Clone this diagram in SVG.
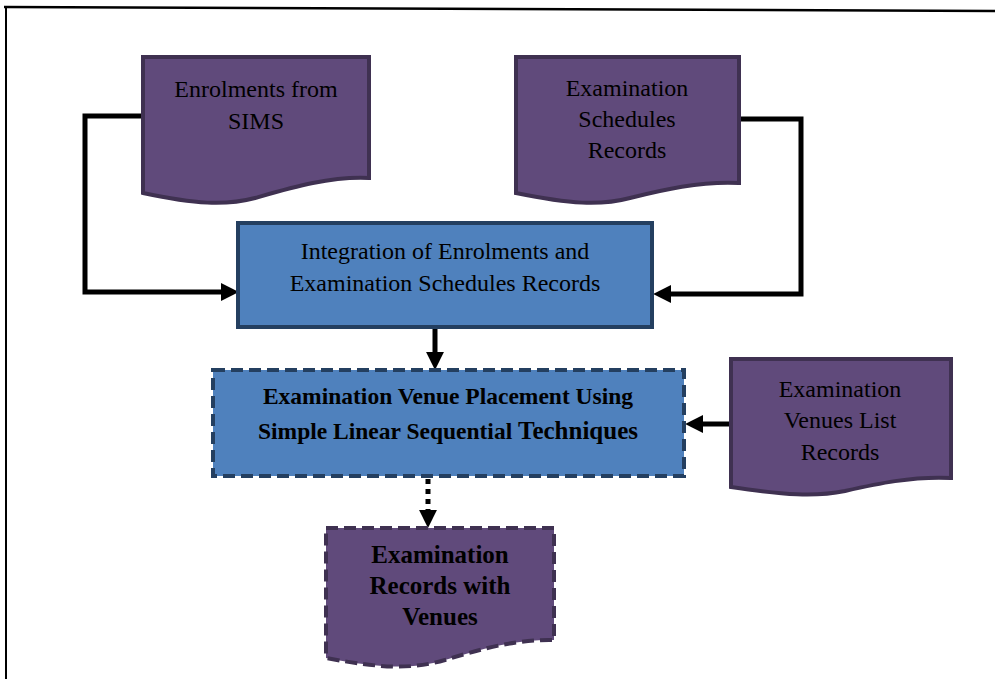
<svg xmlns="http://www.w3.org/2000/svg" width="995" height="679" viewBox="0 0 995 679">
<style>
.doc{fill:#604a7b;stroke:#3f3151;stroke-width:4;stroke-linejoin:miter}
.box{fill:#4f81bd;stroke:#243f60;stroke-width:4}
.dash{stroke-dasharray:12 6}
.t{font-family:"Liberation Serif","Times New Roman",serif;font-size:24px;fill:#000;text-anchor:middle}
.b{font-weight:bold;font-size:23.5px}
.o{font-weight:bold;font-size:25px}
.con{fill:none;stroke:#000;stroke-width:5}
</style>
<defs>
<marker id="ah" markerUnits="userSpaceOnUse" markerWidth="18" markerHeight="18" viewBox="0 0 16 16" refX="1" refY="8" orient="auto">
<path d="M0,0 L16,8 L0,16 Z" fill="#000"/>
</marker>
</defs>
<rect width="995" height="679" fill="#fff"/>
<g id="frame">
<line x1="4" y1="7" x2="995" y2="11" stroke="#000" stroke-width="2.5"/>
<line x1="6" y1="7" x2="6" y2="679" stroke="#000" stroke-width="2"/>
</g>
<g id="connectors">
<polyline class="con" points="143,116 85,116 85,292 222,292" marker-end="url(#ah)"/>
<polyline class="con" points="741,119 801,119 801,294 670,294" marker-end="url(#ah)"/>
<line class="con" x1="435" y1="328" x2="435" y2="353" marker-end="url(#ah)"/>
<line class="con" x1="730" y1="424" x2="702" y2="424" marker-end="url(#ah)"/>
<line class="con" x1="428" y1="479" x2="428" y2="511" stroke-dasharray="5 5" marker-end="url(#ah)"/>
</g>
<g id="enrolments">
<path class="doc" d="M143,57 H369 V178 C330,176 290,188 255,198 C225,206 195,204 143,193 Z"/>
<text class="t" x="256" y="97">Enrolments from</text>
<text class="t" x="256" y="129">SIMS</text>
</g>
<g id="schedules">
<path class="doc" d="M516,57 H739 V183 C700,181 662,190 630,198 C600,206 570,204 516,193 Z"/>
<text class="t" x="627" y="96">Examination</text>
<text class="t" x="627" y="127">Schedules</text>
<text class="t" x="627" y="158">Records</text>
</g>
<g id="integration">
<rect class="box" x="238" y="223" width="414" height="104"/>
<text class="t" x="445" y="259">Integration of Enrolments and</text>
<text class="t" x="445" y="291">Examination Schedules Records</text>
</g>
<g id="placement">
<rect class="box dash" x="213" y="370" width="471" height="106"/>
<text class="t b" x="448" y="404">Examination Venue Placement Using</text>
<text class="t b" x="448" y="439">Simple Linear Sequential <tspan font-size="25px">Techniques</tspan></text>
</g>
<g id="venues">
<path class="doc" d="M731,359 H951 V478 C912,476 876,484 845,491 C815,497 785,495 731,487 Z"/>
<text class="t" x="840" y="397">Examination</text>
<text class="t" x="840" y="428">Venues List</text>
<text class="t" x="840" y="460">Records</text>
</g>
<g id="output">
<path class="doc dash" d="M326,528 H554 V640 C515,639 478,650 445,660 C410,670 380,668 326,658 Z"/>
<text class="t o" x="440" y="563">Examination</text>
<text class="t o" x="440" y="594">Records with</text>
<text class="t o" x="440" y="625">Venues</text>
</g>
</svg>
